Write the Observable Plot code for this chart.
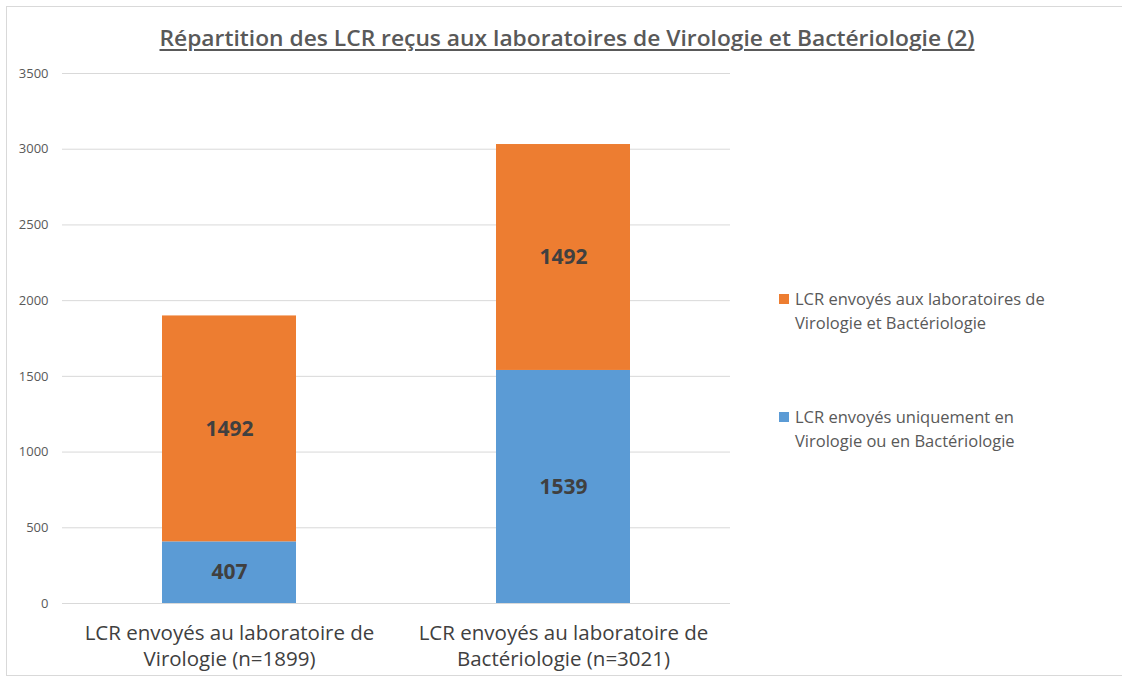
<!DOCTYPE html>
<html>
<head>
<meta charset="utf-8">
<script src="https://cdn.jsdelivr.net/npm/d3@7"></script>
<script src="https://cdn.jsdelivr.net/npm/@observablehq/plot@0.6"></script>
<style>
  html, body { margin: 0; padding: 0; background: #fff; }
  #wrap { position: relative; width: 1122px; height: 682px; overflow: hidden; font-family: "Open Sans", Lato, sans-serif; }
  #frame { position: absolute; left: 6px; top: 6px; width: 1130px; height: 670px; border: 1px solid #d9d9d9; box-sizing: border-box; }
  #title { position: absolute; left: 567px; top: 24px; white-space: nowrap; font-family: "Open Sans", Lato, sans-serif; font-weight: 600; font-size: 21px; color: #595959; text-decoration: underline; text-underline-offset: 3px; text-decoration-thickness: 2px; transform-origin: 0 0; }
  #chart { position: absolute; left: 0; top: 0; }
  #legend { position: absolute; left: 779px; top: 287px; font-size: 16.5px; color: #595959; line-height: 24px; }
  .item { display: flex; align-items: flex-start; }
  .item + .item { margin-top: 70px; }
  .sw { width: 10px; height: 10px; margin-top: 7px; margin-right: 6px; flex: none; }
</style>
</head>
<body>
<div id="wrap">
  <div id="frame"></div>
  <div id="chart"></div>
  <div id="title">Répartition des LCR reçus aux laboratoires de Virologie et Bactériologie (2)</div>
  <div id="legend"></div>
</div>
<script>
const categories = [
  "LCR envoyés au laboratoire de\nVirologie (n=1899)",
  "LCR envoyés au laboratoire de\nBactériologie (n=3021)"
];
const seriesNames = [
  "LCR envoyés uniquement en Virologie ou en Bactériologie",
  "LCR envoyés aux laboratoires de Virologie et Bactériologie"
];
const legendLabels = [
  "LCR envoyés aux laboratoires de<br>Virologie et Bactériologie",
  "LCR envoyés uniquement en<br>Virologie ou en Bactériologie"
];
const uniquementValues = [407, 1539];
const lesDeuxValues = [1492, 1492];
const seriesColors = ["#5B9BD5", "#ED7D31"];
const yTicks = [0, 500, 1000, 1500, 2000, 2500, 3000, 3500];

const data = [];
categories.forEach((c, i) => {
  data.push({cat: c, series: seriesNames[0], value: uniquementValues[i]});
  data.push({cat: c, series: seriesNames[1], value: lesDeuxValues[i]});
});

const chart = Plot.plot({
  width: 1122,
  height: 682,
  marginLeft: 62,
  marginRight: 392,
  marginTop: 73,
  marginBottom: 79,
  style: {fontFamily: "'Open Sans', Lato, sans-serif", background: "transparent", overflow: "visible"},
  x: {domain: categories, paddingInner: 0.6, paddingOuter: 0.3, label: null},
  y: {domain: [0, 3500], label: null},
  color: {domain: seriesNames, range: seriesColors},
  marks: [
    Plot.ruleY(yTicks, {stroke: "#d9d9d9", strokeWidth: 1, strokeOpacity: 1}),
    Plot.barY(data, Plot.stackY({x: "cat", y: "value", fill: "series", order: null})),
    Plot.text(data, Plot.stackY({x: "cat", y: "value", z: "series", text: d => String(d.value), fill: "#404040", fontSize: 21, fontWeight: "bold", order: null})),
    Plot.axisY({ticks: yTicks, tickSize: 0, tickPadding: 14, fontSize: 13, color: "#595959", label: null, tickFormat: d => String(d)}),
    Plot.axisX({tickSize: 0, tickPadding: 18, fontSize: 20.5, color: "#404040", lineHeight: 1.27, label: null})
  ]
});
document.getElementById("chart").appendChild(chart);

// fit the title to the reference width, centred on the plot
const title = document.getElementById("title");
const tw = title.getBoundingClientRect().width;
const targetW = 815;
const sx = targetW / tw;
title.style.transform = `translateX(${-targetW / 2}px) scaleX(${sx})`;

const legend = document.getElementById("legend");
[1, 0].forEach((si, k) => {
  const item = document.createElement("div");
  item.className = "item";
  const sw = document.createElement("div");
  sw.className = "sw";
  sw.style.background = seriesColors[si];
  const tx = document.createElement("div");
  tx.innerHTML = legendLabels[k];
  item.appendChild(sw);
  item.appendChild(tx);
  legend.appendChild(item);
});
</script>
</body>
</html>
